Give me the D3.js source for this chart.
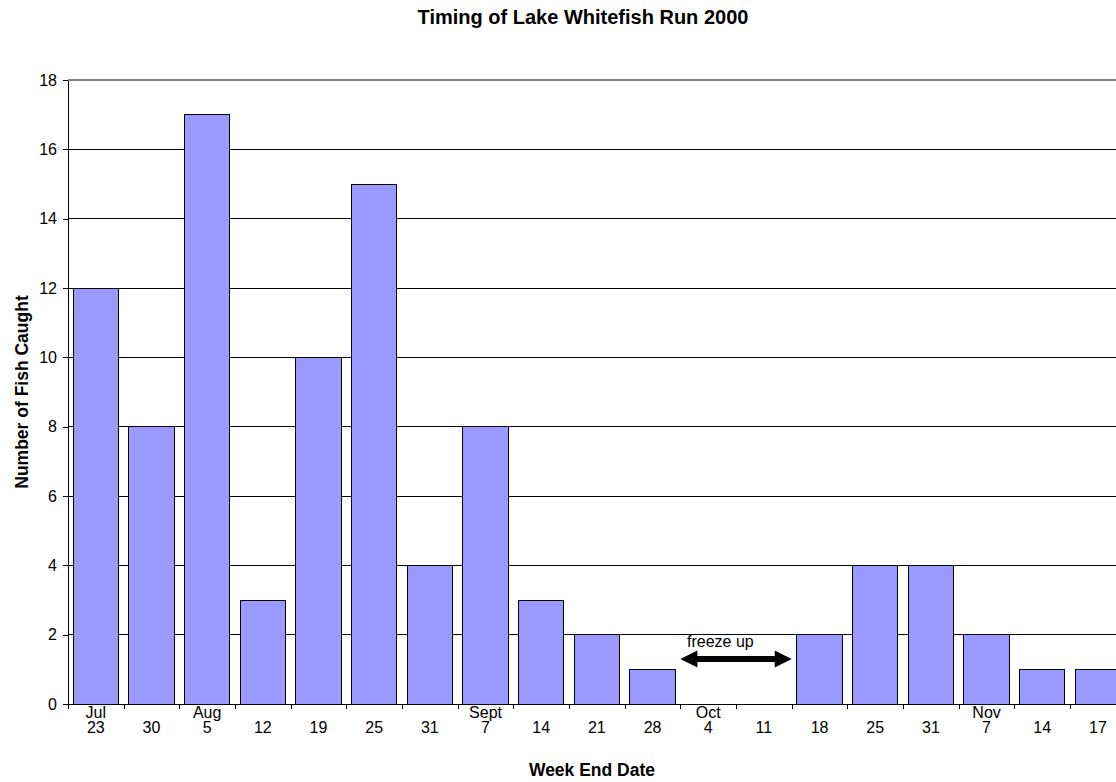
<!DOCTYPE html>
<html>
<head>
<meta charset="utf-8">
<script src="https://cdn.jsdelivr.net/npm/d3@7"></script>
<style>
  body { margin: 0; background: #fff; }
  svg { display: block; font-family: "Liberation Sans", Arial, sans-serif; }
  .axis path, .axis line { stroke: #000; shape-rendering: crispEdges; }
  .axis text { font-size: 16px; fill: #000; }
  .grid line { stroke: #000; shape-rendering: crispEdges; }
</style>
</head>
<body>
<div class="chart"></div>
<script>
// week end dates (keys), split into two label rows
var weekEnds = ["Jul 23", "Jul 30", "Aug 5", "Aug 12", "Aug 19", "Aug 25", "Aug 31", "Sept 7", "Sept 14", "Sept 21",
  "Sept 28", "Oct 4", "Oct 11", "Oct 18", "Oct 25", "Oct 31", "Nov 7", "Nov 14", "Nov 17"];
var monthLabels = ["Jul", "", "Aug", "", "", "", "", "Sept", "", "", "", "Oct", "", "", "", "", "Nov", "", ""];
var dayLabels = ["23", "30", "5", "12", "19", "25", "31", "7", "14", "21", "28", "4", "11", "18", "25", "31", "7", "14", "17"];
var fishCaught = [12, 8, 17, 3, 10, 15, 4, 8, 3, 2, 1, 0, 0, 2, 4, 4, 2, 1, 1];
var yTicks = [0, 2, 4, 6, 8, 10, 12, 14, 16, 18];

// freeze up annotation
var freezeFrom = "Oct 4", freezeTo = "Oct 11", freezeLevel = 1.3;

var data = weekEnds.map(function(k, i) {
  return { key: k, month: monthLabels[i], day: dayLabels[i], value: fishCaught[i] };
});

var W = 1116, H = 782;
var margin = { top: 80, left: 68, bottom: 78 },
    step = 55.67,
    width = step * weekEnds.length,
    height = H - margin.top - margin.bottom;

var svg = d3.select(".chart").append("svg")
  .attr("width", W)
  .attr("height", H);

var g = svg.append("g")
  .attr("transform", "translate(" + margin.left + "," + margin.top + ")");

var x = d3.scaleBand()
  .domain(weekEnds)
  .range([0, width])
  .paddingInner(0.185)
  .paddingOuter(0.0925);

var xEdge = d3.scaleLinear()
  .domain([0, weekEnds.length])
  .range([0, width]);

var y = d3.scaleLinear()
  .domain([0, 18])
  .range([height, 0]);

// gridlines
g.append("g")
  .attr("class", "grid")
  .selectAll("line")
  .data(yTicks.filter(function(d) { return d > 0; }))
  .enter().append("line")
    .attr("x1", 0)
    .attr("x2", width)
    .attr("y1", function(d) { return y(d); })
    .attr("y2", function(d) { return y(d); })
    .style("stroke", function(d) { return d === 18 ? "#808080" : "#000"; })
    .style("stroke-width", function(d) { return d === 18 ? 2 : 1; });

// bars
g.selectAll(".bar")
  .data(data.filter(function(d) { return d.value > 0; }))
  .enter().append("rect")
    .attr("class", "bar")
    .attr("x", function(d) { return x(d.key); })
    .attr("y", function(d) { return y(d.value); })
    .attr("width", x.bandwidth())
    .attr("height", function(d) { return y(0) - y(d.value); })
    .style("fill", "#9999ff")
    .style("stroke", "#000")
    .style("stroke-width", 1)
    .style("shape-rendering", "crispEdges");

// y axis
g.append("g")
  .attr("class", "axis")
  .call(d3.axisLeft(y).tickValues(yTicks).tickSize(5).tickPadding(6).tickSizeOuter(0));

// x axis: ticks at category edges
g.append("g")
  .attr("class", "axis")
  .attr("transform", "translate(0," + height + ")")
  .call(d3.axisBottom(xEdge).tickValues(d3.range(weekEnds.length + 1)).tickSize(5).tickSizeOuter(0).tickFormat(""));

// x axis labels: month on first row, day below
var xLab = g.append("g")
  .attr("class", "axis")
  .attr("transform", "translate(0," + height + ")")
  .call(d3.axisBottom(x).tickSize(0).tickFormat(""));
xLab.select(".domain").remove();

xLab.selectAll(".tick").each(function(k, i) {
  var t = d3.select(this);
  t.append("text").attr("y", 14).attr("text-anchor", "middle").text(monthLabels[i]);
  t.append("text").attr("y", 29).attr("text-anchor", "middle").text(dayLabels[i]);
});

// freeze up arrow
var ax0 = x(freezeFrom) - x.step() * x.paddingOuter(),
    ax1 = x(freezeTo) + x.bandwidth() + x.step() * x.paddingOuter(),
    ay = y(freezeLevel),
    head = 17, hh = 8.5, sh = 3;
g.append("path")
  .attr("d", "M" + ax0 + "," + ay +
    "L" + (ax0 + head) + "," + (ay - hh) +
    "L" + (ax0 + head) + "," + (ay - sh) +
    "L" + (ax1 - head) + "," + (ay - sh) +
    "L" + (ax1 - head) + "," + (ay - hh) +
    "L" + ax1 + "," + ay +
    "L" + (ax1 - head) + "," + (ay + hh) +
    "L" + (ax1 - head) + "," + (ay + sh) +
    "L" + (ax0 + head) + "," + (ay + sh) +
    "L" + (ax0 + head) + "," + (ay + hh) + "Z")
  .style("fill", "#000");
g.append("text")
  .attr("x", ax0 + 40)
  .attr("y", ay - 12)
  .attr("text-anchor", "middle")
  .style("font-size", "16px")
  .text("freeze up");

// titles
svg.append("text")
  .attr("x", 583)
  .attr("y", 24)
  .attr("text-anchor", "middle")
  .style("font-size", "20px")
  .style("font-weight", "bold")
  .text("Timing of Lake Whitefish Run 2000");

svg.append("text")
  .attr("x", 592)
  .attr("y", 776)
  .attr("text-anchor", "middle")
  .style("font-size", "17.5px")
  .style("font-weight", "bold")
  .text("Week End Date");

svg.append("text")
  .attr("transform", "translate(28," + (margin.top + height / 2) + ") rotate(-90)")
  .attr("text-anchor", "middle")
  .style("font-size", "17.5px")
  .style("font-weight", "bold")
  .text("Number of Fish Caught");
</script>
</body>
</html>
